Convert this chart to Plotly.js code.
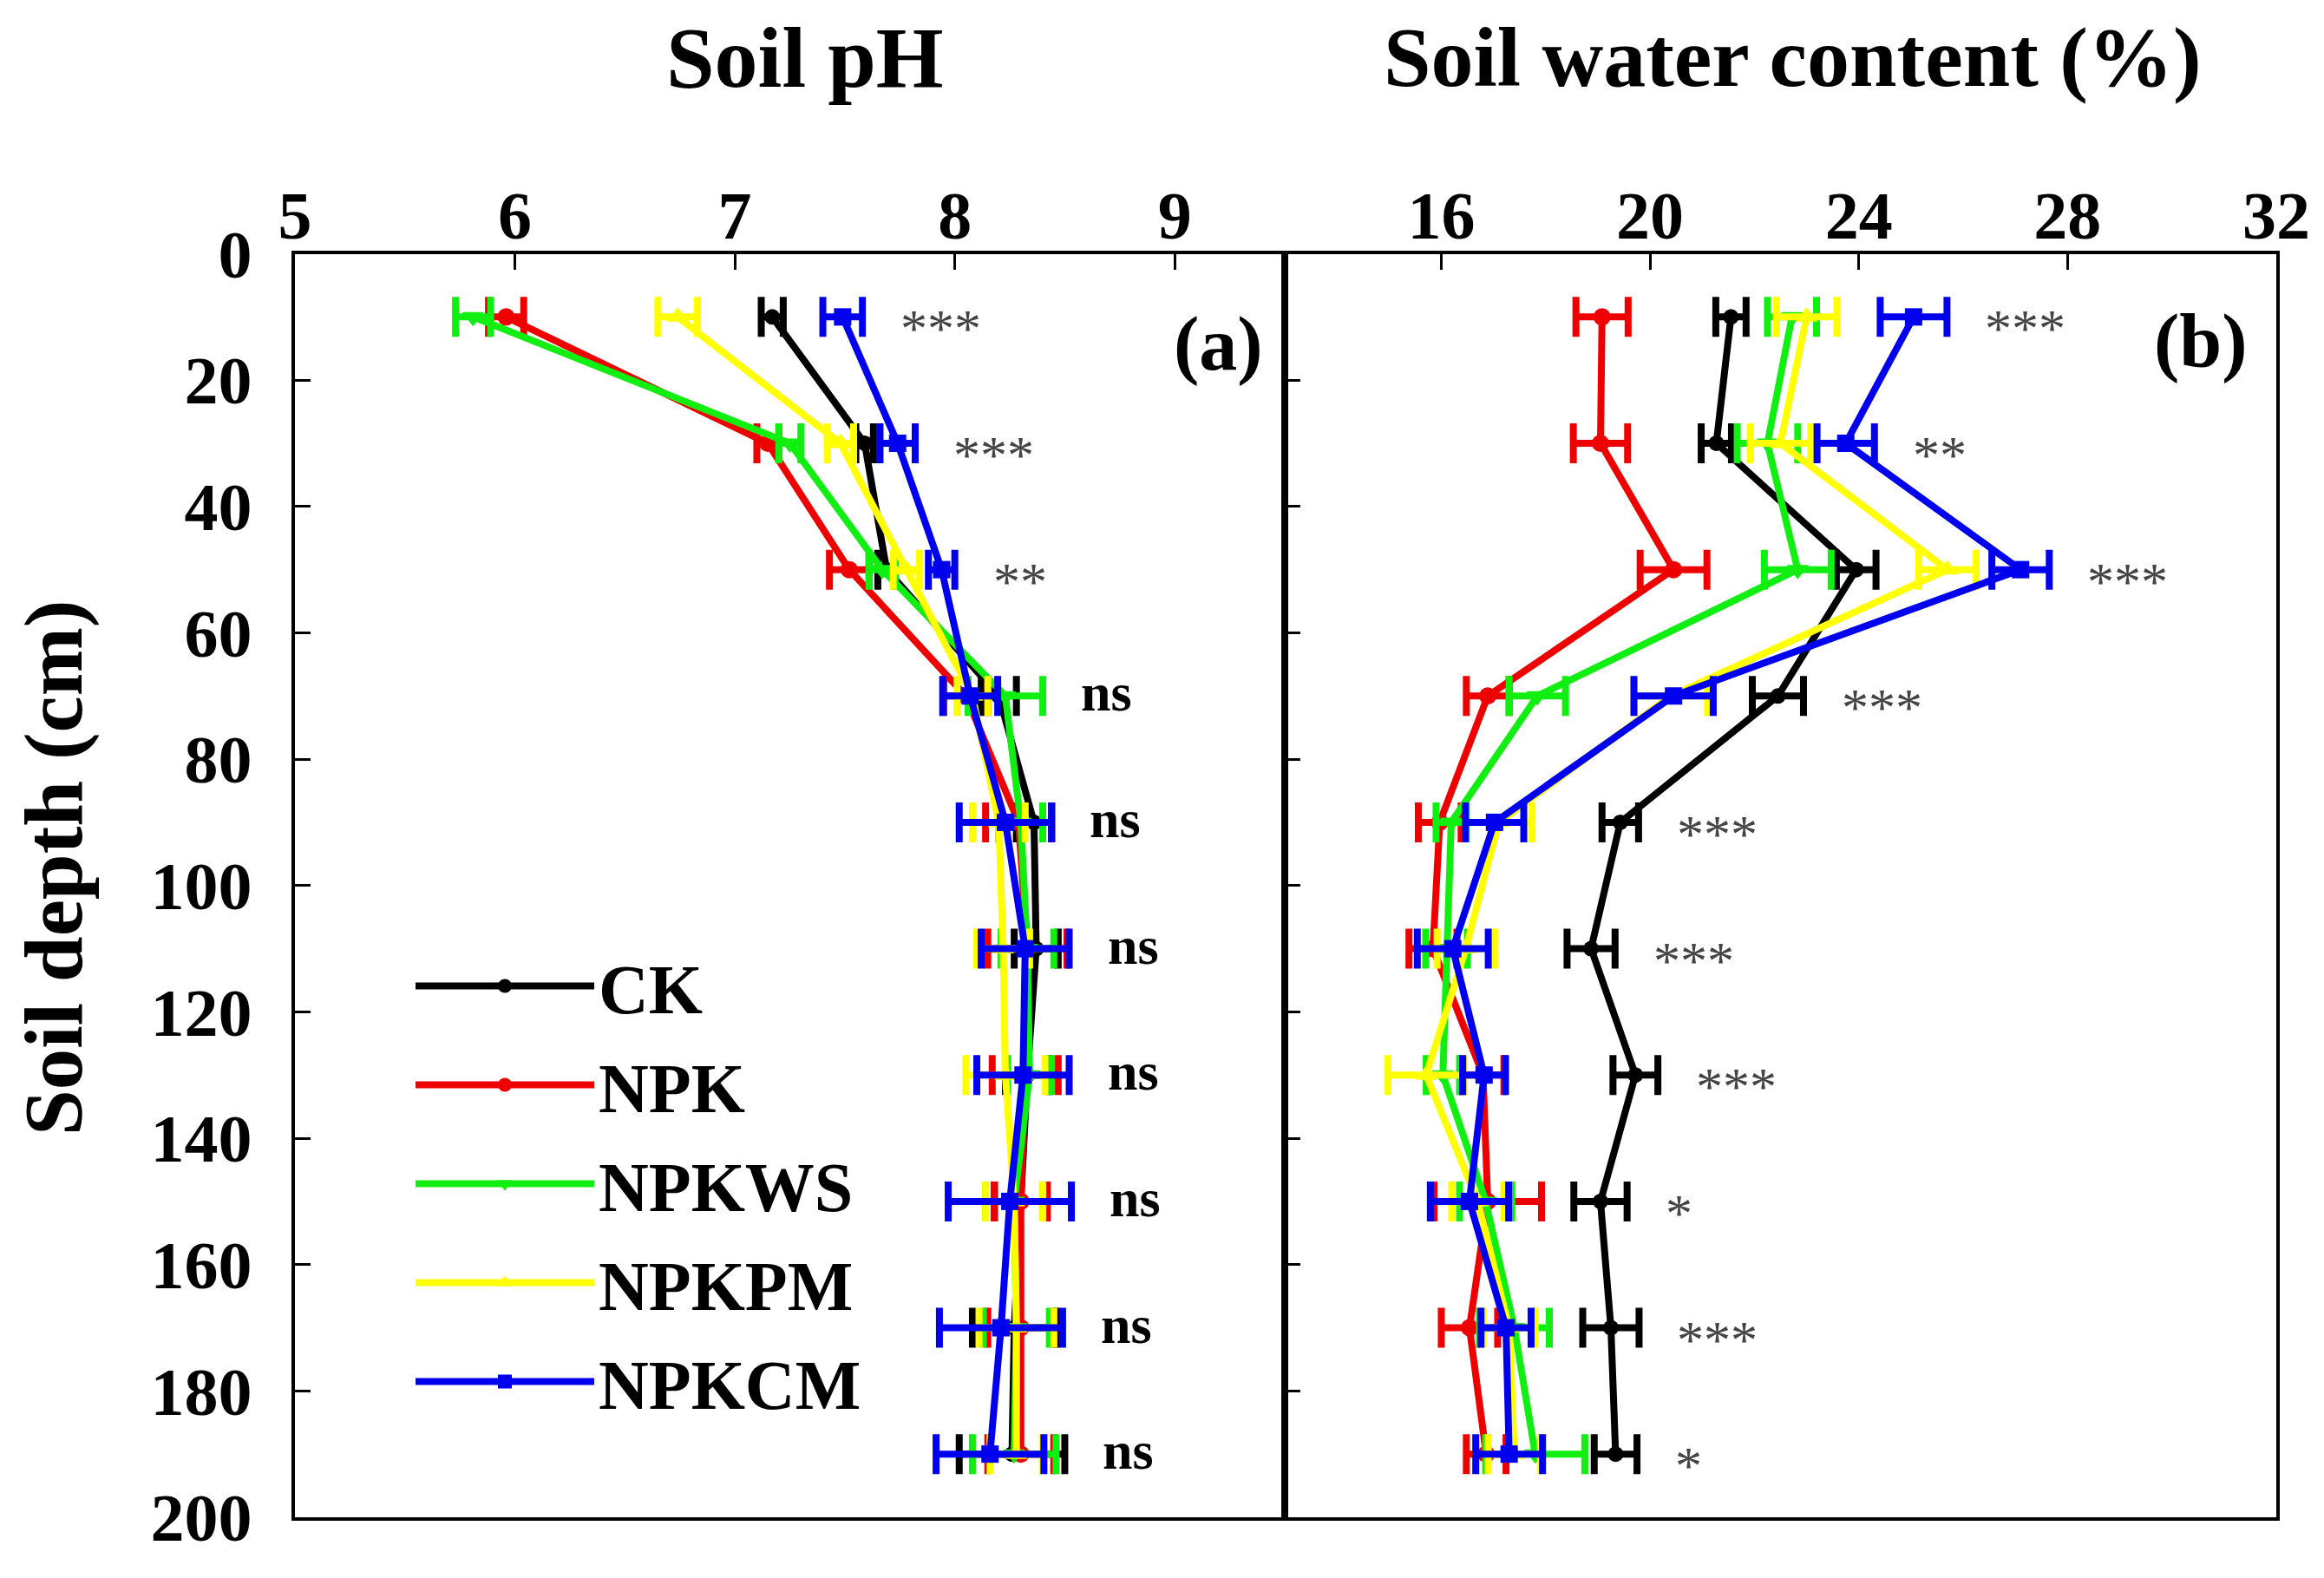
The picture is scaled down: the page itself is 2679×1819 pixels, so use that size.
<!DOCTYPE html>
<html><head><meta charset="utf-8">
<script src="https://cdn.plot.ly/plotly-3.0.1.min.js"></script>
<style>html,body{margin:0;padding:0;background:#fff;} #chart{width:2679px;height:1819px;}</style>
</head><body><div id="chart"></div>
<script>
// ---- data ----
const depth = [10, 30, 50, 70, 90, 110, 130, 150, 170, 190];
const treatments = ['CK', 'NPK', 'NPKWS', 'NPKPM', 'NPKCM'];

// Soil pH (panel a)
const phCK    = [7.17, 7.59, 7.69, 8.20, 8.36, 8.37, 8.33, 8.30, 8.27, 8.26];
const phNPK   = [5.96, 7.15, 7.52, 8.05, 8.29, 8.33, 8.32, 8.30, 8.30, 8.30];
const phNPKWS = [5.81, 7.25, 7.67, 8.23, 8.30, 8.33, 8.34, 8.27, 8.28, 8.27];
const phNPKPM = [6.74, 7.48, 7.78, 8.08, 8.20, 8.22, 8.23, 8.27, 8.28, 8.28];
const phNPKCM = [7.49, 7.74, 7.94, 8.07, 8.23, 8.32, 8.31, 8.25, 8.21, 8.16];
const phErrCK    = [0.05, 0.04, 0.04, 0.08, 0.08, 0.10, 0.10, 0.12, 0.19, 0.24];
const phErrNPK   = [0.08, 0.05, 0.09, 0.10, 0.15, 0.18, 0.15, 0.12, 0.15, 0.15];
const phErrNPKWS = [0.08, 0.05, 0.06, 0.17, 0.10, 0.12, 0.10, 0.13, 0.15, 0.19];
const phErrNPKPM = [0.09, 0.06, 0.06, 0.07, 0.12, 0.12, 0.18, 0.13, 0.17, 0.12];
const phErrNPKCM = [0.09, 0.08, 0.06, 0.125, 0.21, 0.20, 0.21, 0.28, 0.28, 0.245];
const phSig = ['***', '***', '**', 'ns', 'ns', 'ns', 'ns', 'ns', 'ns', 'ns'];

// Soil water content % (panel b)
const swCK    = [21.55, 21.27, 23.95, 22.45, 19.43, 18.87, 19.72, 19.05, 19.25, 19.34];
const swNPK   = [19.08, 19.05, 20.45, 16.89, 15.97, 15.84, 16.80, 16.89, 16.54, 16.86];
const swNPKWS = [22.72, 22.25, 22.83, 17.84, 16.19, 16.10, 16.03, 16.85, 17.40, 17.80];
const swNPKPM = [23.00, 22.50, 25.70, 20.40, 17.10, 16.47, 15.71, 16.70, 17.30, 17.40];
const swNPKCM = [25.05, 23.75, 27.10, 20.45, 17.02, 16.22, 16.82, 16.54, 17.24, 17.30];
const swErrCK    = [0.29, 0.29, 0.38, 0.49, 0.35, 0.46, 0.43, 0.51, 0.54, 0.41];
const swErrNPK   = [0.50, 0.52, 0.64, 0.41, 0.41, 0.46, 0.40, 1.03, 0.54, 0.38];
const swErrNPKWS = [0.47, 0.58, 0.64, 0.54, 0.29, 0.40, 0.32, 0.50, 0.67, 0.95];
const swErrNPKPM = [0.58, 0.58, 0.55, 0.70, 0.64, 0.55, 0.73, 0.50, 0.50, 0.50];
const swErrNPKCM = [0.64, 0.55, 0.55, 0.76, 0.56, 0.68, 0.41, 0.75, 0.48, 0.64];
const swSig = ['***', '**', '***', '***', '***', '***', '***', '*', '***', '*'];

// axis ticks
const phTicks = [5, 6, 7, 8, 9];
const swTicks = [16, 20, 24, 28, 32];
const depthTicks = [0, 20, 40, 60, 80, 100, 120, 140, 160, 180, 200];

// ---- styling ----
const colors = ['#000000', '#ee0000', '#11ee11', '#ffff00', '#0000ee'];
const symbols = ['circle', 'circle', 'triangle-down', 'triangle-up', 'square'];
const msize = [18, 20, 22, 22, 20];
const serif = 'Liberation Serif, Times New Roman, serif';

const phVals = [phCK, phNPK, phNPKWS, phNPKPM, phNPKCM];
const phErrs = [phErrCK, phErrNPK, phErrNPKWS, phErrNPKPM, phErrNPKCM];
const swVals = [swCK, swNPK, swNPKWS, swNPKPM, swNPKCM];
const swErrs = [swErrCK, swErrNPK, swErrNPKWS, swErrNPKPM, swErrNPKCM];

const traces = [];
function addPanel(vals, errs, xa, ya, legend) {
  treatments.forEach((name, k) => {
    traces.push({
      type: 'scatter', mode: 'lines+markers', name: name,
      x: vals[k], y: depth, xaxis: xa, yaxis: ya,
      showlegend: legend, legendgroup: name,
      line: {color: colors[k], width: 8},
      marker: {color: colors[k], symbol: symbols[k], size: msize[k]},
      error_x: {type: 'data', array: errs[k], visible: true, color: colors[k], thickness: 8, width: 23},
      cliponaxis: false
    });
  });
}
addPanel(phVals, phErrs, 'x', 'y', true);
addPanel(swVals, swErrs, 'x2', 'y2', false);

const annotations = [];
function sigLabels(vals, errs, sig, xr, yr) {
  depth.forEach((d, i) => {
    let mx = -Infinity;
    vals.forEach((v, k) => { mx = Math.max(mx, v[i] + errs[k][i]); });
    const isStar = sig[i].indexOf('*') >= 0;
    annotations.push({
      x: mx, y: d, xref: xr, yref: yr, text: sig[i], showarrow: false,
      xanchor: 'left', yanchor: 'middle', xshift: 42, yshift: isStar ? -13 : 4,
      font: isStar ? {family: serif, size: 62, color: '#444444'}
                   : {family: serif, size: 62, color: '#000000', weight: 'bold'}
    });
  });
}
sigLabels(phVals, phErrs, phSig, 'x', 'y');
sigLabels(swVals, swErrs, swSig, 'x2', 'y2');

const W = 2679, H = 1819;
function px(x) { return x / W; }
function py(y) { return 1 - y / H; }
annotations.push(
  {text: 'Soil pH', x: px(928), y: py(66), xref: 'paper', yref: 'paper', showarrow: false,
   xanchor: 'center', yanchor: 'middle', font: {family: serif, size: 100, weight: 'bold', color: '#000'}},
  {text: 'Soil water content (%)', x: px(2066), y: py(66), xref: 'paper', yref: 'paper', showarrow: false,
   xanchor: 'center', yanchor: 'middle', font: {family: serif, size: 98, weight: 'bold', color: '#000'}},
  {text: 'Soil depth (cm)', x: px(62), y: py(1000), xref: 'paper', yref: 'paper', showarrow: false,
   textangle: -90, xanchor: 'center', yanchor: 'middle', font: {family: serif, size: 95, weight: 'bold', color: '#000'}},
  {text: '(a)', x: px(1404), y: py(397), xref: 'paper', yref: 'paper', showarrow: false,
   xanchor: 'center', yanchor: 'middle', font: {family: serif, size: 88, weight: 'bold', color: '#000'}},
  {text: '(b)', x: px(2537), y: py(393), xref: 'paper', yref: 'paper', showarrow: false,
   xanchor: 'center', yanchor: 'middle', font: {family: serif, size: 88, weight: 'bold', color: '#000'}}
);

const tickFont = {family: serif, size: 78, weight: 'bold', color: '#000'};
const common = {
  ticks: 'inside', ticklen: 18, tickwidth: 3, tickcolor: '#000',
  showline: true, linewidth: 4, linecolor: '#000', mirror: true,
  showgrid: false, zeroline: false, tickfont: tickFont, fixedrange: true
};
const xdomA = [340 / W, 1481 / W], xdomB = [1481 / W, 2624 / W];
const ydom = [1 - 1749 / H, 1 - 292.5 / H];

const layout = {
  width: W, height: H, margin: {l: 0, r: 0, t: 0, b: 0},
  paper_bgcolor: '#fff', plot_bgcolor: '#fff', showlegend: true,
  legend: {x: px(474), y: py(1078), xanchor: 'left', yanchor: 'top', itemwidth: 206,
           bgcolor: 'rgba(0,0,0,0)', borderwidth: 0, tracegroupgap: 7, traceorder: 'grouped',
           font: {family: serif, size: 80, weight: 'bold', color: '#000'}},
  xaxis: Object.assign({}, common, {domain: xdomA, range: [5, 9.5], side: 'top', anchor: 'y',
           tickmode: 'array', tickvals: phTicks, ticktext: phTicks.map(String), ticklabelstandoff: -18}),
  xaxis2: Object.assign({}, common, {domain: xdomB, range: [13, 32], side: 'top', anchor: 'y2',
           tickmode: 'array', tickvals: swTicks, ticktext: swTicks.map(String), ticklabelstandoff: -18}),
  yaxis: Object.assign({}, common, {domain: ydom, range: [200, 0], anchor: 'x',
           tickmode: 'array', tickvals: depthTicks, ticktext: depthTicks.map(String), ticklabelstandoff: 30}),
  yaxis2: Object.assign({}, common, {domain: ydom, range: [200, 0], anchor: 'x2',
           tickmode: 'array', tickvals: depthTicks, showticklabels: false}),
  annotations: annotations
};

Plotly.newPlot('chart', traces, layout, {displayModeBar: false, staticPlot: true});
</script>
</body></html>
